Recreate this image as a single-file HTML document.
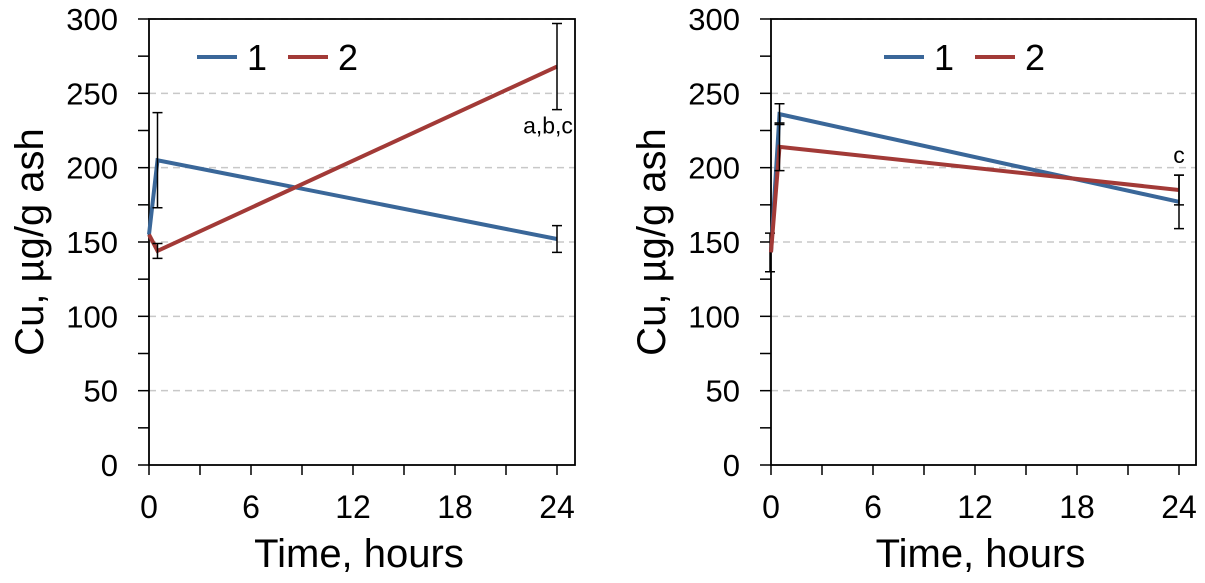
<!DOCTYPE html>
<html><head><meta charset="utf-8"><style>
body{margin:0;background:#fff}
svg{display:block;font-family:"Liberation Sans",Arial,sans-serif}
</style></head><body>
<svg id="c" width="1205" height="583" viewBox="0 0 1205 583"></svg>
<script>
const times=[0,0.5,24];
const leftS1=[155,205,152];
const leftS1Err=[0,32,9];
const leftS2=[155,144,268];
const leftS2Err=[0,5,29];
const rightS1=[143,236,177];
const rightS1Err=[13,7,18];
const rightS2=[143,214,185];
const rightS2Err=[0,16,10];
const yTicks=[0,50,100,150,200,250,300];
const xTicks=[0,6,12,18,24];
const seriesNames=['1','2'];
const NS='http://www.w3.org/2000/svg';
const svg=document.getElementById('c');
function el(t,a,p){const e=document.createElementNS(NS,t);for(const k in a)e.setAttribute(k,a[k]);(p||svg).appendChild(e);return e;}
const colors=['#3a6799','#a23a37'];
function panel(ox,right,s1,e1,s2,e2,note,noteX,noteVal,legX,name){
  const g=el('g',{});
  
  
  const X=v=>ox+v*17, Y=v=>465-v*1.4867;
  yTicks.forEach(v=>{ if(v>0){const l=el('line',{x1:ox,x2:right,y1:Y(v),y2:Y(v),stroke:'#c8c8c8','stroke-width':1.5,'stroke-dasharray':'7,5'},g);}
    const t=el('text',{x:ox-31,y:Y(v)+11,'font-size':31,'text-anchor':'end'},g);t.textContent=v;});
  for(let v=0;v<=300;v+=25) el('line',{x1:ox-11,x2:ox,y1:Y(v),y2:Y(v),stroke:'#000','stroke-width':1.5},g);
  for(let v=0;v<=24;v+=3) el('line',{x1:X(v),x2:X(v),y1:465,y2:475,stroke:'#000','stroke-width':1.5},g);
  xTicks.forEach(v=>{const t=el('text',{x:X(v),y:518,'font-size':32,'text-anchor':'middle'},g);t.textContent=v;});
  el('rect',{x:ox,y:19,width:right-ox,height:446,fill:'none',stroke:'#000','stroke-width':1.8},g);
  const yt=el('text',{transform:`translate(${ox-106},242) rotate(-90)`,'font-size':40,'text-anchor':'middle'},g);yt.textContent='Cu, µg/g ash';
  const xt=el('text',{x:(ox+right)/2-3,y:567,'font-size':40,'text-anchor':'middle'},g);xt.textContent='Time, hours';
  [[s1,e1],[s2,e2]].forEach(([s,e],i)=>{
    const p=el('polyline',{points:times.map((t,j)=>X(t)+','+Y(s[j])).join(' '),fill:'none',stroke:colors[i],'stroke-width':4},g);
    
    times.forEach((t,j)=>{ if(e[j]>0){const x=X(t)+(t===0?-1:0);
      const b=el('path',{d:`M${x},${Y(s[j]+e[j])}V${Y(s[j]-e[j])}M${x-5},${Y(s[j]+e[j])}h10M${x-5},${Y(s[j]-e[j])}h10`,stroke:'#000','stroke-width':1.5,fill:'none'},g);
      }});
  });
  const n=el('text',{x:noteX,y:Y(noteVal),'font-size':23,'text-anchor':'middle'},g);n.textContent=note;
  seriesNames.forEach((s,i)=>{const lx=legX+i*91;
    const l=el('line',{x1:lx,x2:lx+40,y1:57,y2:57,stroke:colors[i],'stroke-width':4},g);
    const t=el('text',{x:lx+50,y:70,'font-size':36},g);t.textContent=s;});
}
panel(149,575,leftS1,leftS1Err,leftS2,leftS2Err,'a,b,c',548,223,197,'left-panel');
panel(771,1196,rightS1,rightS1Err,rightS2,rightS2Err,'c',1179,203,884,'right-panel');
</script>
</body></html>
